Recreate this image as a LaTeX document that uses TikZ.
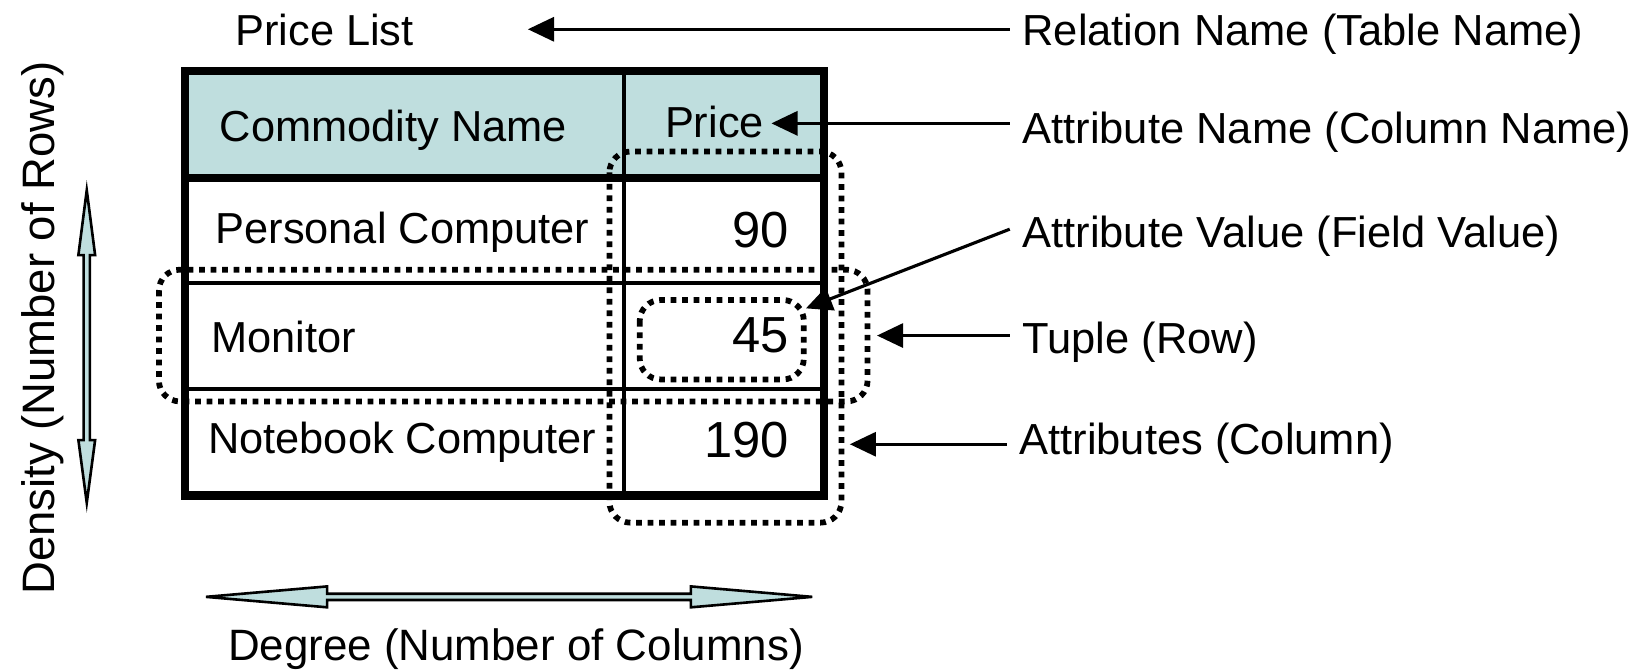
\documentclass[tikz,border=0pt]{standalone}
\usepackage{fontspec}
\setmainfont{Liberation Sans}
\usetikzlibrary{arrows.meta}
\definecolor{hdr}{RGB}{191,222,222}
\begin{document}
\begin{tikzpicture}[x=1pt,y=-1pt,
  lbl/.style={font=\fontsize{41.6}{49}\selectfont, inner xsep=12pt, inner ysep=0pt, anchor=base west},
  cell/.style={font=\fontsize{41.5}{49}\selectfont, inner sep=0pt, anchor=base west},
  num/.style={font=\fontsize{48.5}{56}\selectfont, inner sep=0pt, anchor=base east},
  conn/.style={line width=3pt, -{Triangle[length=25pt,width=23pt]}},
  dotbox/.style={line width=5.5pt, dash pattern=on 5.5pt off 5.5pt, rounded corners=20pt},
  dbl/.style={fill=hdr, draw=black, line width=2.5pt, line join=miter}]
\useasboundingbox (0,0) rectangle (1568,641);

% table
\fill[hdr] (177,68) rectangle (788,170);
\draw[line width=3.5pt] (177,271) -- (788,271);
\draw[line width=3.5pt] (177,372) -- (788,372);
\draw[line width=3.5pt] (597,68) -- (597,474);
\draw[line width=7.5pt] (177,170) -- (788,170);
\draw[line width=8pt] (177,68) rectangle (788,474);

% cell texts
\node[cell] (pricelist) at (225,44) {Price List};
\node[cell] (cname) at (210,135) {Commodity Name};
\node[cell] (price) at (636,132) {Price};
\node[cell] (pc) at (206,233) {Personal Computer};
\node[num] (v90) at (755,237) {90};
\node[cell] (mon) at (202,337) {Monitor};
\node[num] (v45) at (755,337) {45};
\node[cell] (nb) at (199,434) {Notebook Computer};
\node[num] (v190) at (755,438) {190};

% dotted groupings
\draw[dotbox] (583,145) rectangle (805,500);
\draw[dotbox] (152,258) rectangle (830,384);
\draw[dotbox] (612,287) rectangle (769,363);

% labels
\node[lbl] (relname) at (966,44) {Relation Name (Table Name)};
\node[lbl] (attrname) at (966,137) {Attribute Name (Column Name)};
\node[lbl] (attrval) at (966,237) {Attribute Value (Field Value)};
\node[lbl] (tuple) at (966,338) {Tuple (Row)};
\node[lbl] (attrs) at (963,435) {Attributes (Column)};

\coordinate (relTip) at (505,28);
\coordinate (anTip) at (738,118);
\coordinate (avTip) at (771,295);
\coordinate (tupTip) at (839,321);
\coordinate (colTip) at (813,425);

\draw[conn] (relname.west |- relTip) -- (relTip);
\draw[conn] (attrname.west |- anTip) -- (anTip);
\draw[conn] ([yshift=7pt]attrval.west) -- (avTip);
\draw[conn] (tuple.west |- tupTip) -- (tupTip);
\draw[conn] (attrs.west |- colTip) -- (colTip);

% double arrows
\draw[dbl] (83,182) -- (91,244) -- (86,244) -- (86,421) -- (91,421) -- (83,481)
  -- (75,421) -- (80,421) -- (80,244) -- (75,244) -- cycle;
\draw[dbl] (197,571) -- (313,561) -- (313,568) -- (661,568) -- (661,561) -- (777,571)
  -- (661,581) -- (661,574) -- (313,574) -- (313,581) -- cycle;

\node[cell, font=\fontsize{42}{50}\selectfont] (degree) at (218,632) {Degree (Number of Columns)};
\node[cell, font=\fontsize{43.5}{50}\selectfont, rotate=90, anchor=base] (density) at (52,314) {Density (Number of Rows)};
\end{tikzpicture}
\end{document}
